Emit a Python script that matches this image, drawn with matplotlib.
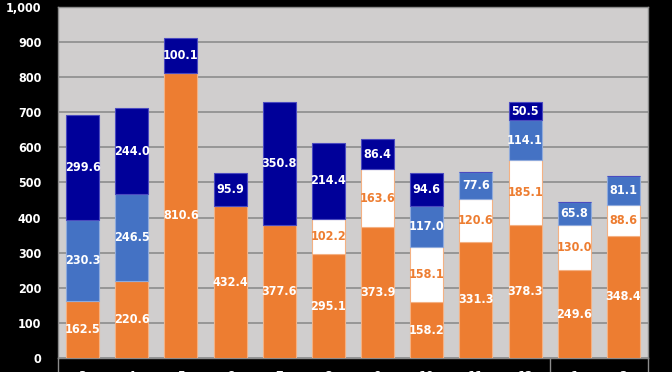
import matplotlib.pyplot as plt
import numpy as np

months = ['3', '4', '5', '6', '7', '8', '9', '10', '11', '12', '1', '2']
orange = [162.5, 220.6, 810.6, 432.4, 377.6, 295.1, 373.9, 158.2, 331.3, 378.3, 249.6, 348.4]
white = [0, 0, 0, 0, 0, 102.2, 163.6, 158.1, 120.6, 185.1, 130.0, 88.6]
blue = [230.3, 246.5, 0, 0, 0, 0, 0, 117.0, 77.6, 114.1, 65.8, 81.1]
navy = [299.6, 244.0, 100.1, 95.9, 350.8, 214.4, 86.4, 94.6, 0, 50.5, 0, 0]

plt.rcParams['font.family'] = ['DejaVu Sans']
plt.rcParams['font.stretch'] = 'condensed'
plt.rcParams['font.weight'] = 'bold'

fig = plt.figure(figsize=(6.72, 3.72), dpi=100, facecolor='black')
ax = fig.add_axes([58 / 672, 14 / 372, 590 / 672, 351 / 372])
ax.set_facecolor('#D0CECE')

x = np.arange(len(months))
w = 0.67
series = [
    (orange, '#ED7D31', 'white', '#F4B183'),
    (white, 'white', '#ED7D31', '#F4B183'),
    (blue, '#4472C4', 'white', '#8FAADC'),
    (navy, '#000099', 'white', '#4A4AC0'),
]
bottom = np.zeros(len(months))
for vals, fc, tc, ec in series:
    vals = np.array(vals)
    ax.bar(x, vals, w, bottom=bottom, color=fc, edgecolor=ec, linewidth=0.8, zorder=3)
    for xi, b, v in zip(x, bottom, vals):
        if v > 0:
            ax.text(xi, b + v / 2, f'{v:.1f}', ha='center', va='center',
                    color=tc, fontsize=9, fontweight='bold', zorder=4)
    bottom += vals

ax.set_xlim(-0.5, len(months) - 0.5)
ax.set_ylim(0, 1000)
ax.set_yticks(range(0, 1001, 100))
ax.set_yticklabels([f'{v:,}' for v in range(0, 1001, 100)])
ax.yaxis.grid(True, color='#8C8C8C', linewidth=1.2, zorder=0)
ax.tick_params(axis='y', length=0, pad=12, colors='white', labelsize=9)
ax.set_xticks(x)
ax.set_xticklabels(months)
ax.tick_params(axis='x', length=0, pad=9, colors='white', labelsize=9)
for s in ax.spines.values():
    s.set_color('#8C8C8C')
    s.set_linewidth(1)

# group separators below the axis
for xs in [-0.5, 9.5, 11.5]:
    ax.plot([xs, xs], [0, -60], color='#8C8C8C', lw=1, clip_on=False, zorder=5)

fig.savefig('out.png', facecolor='black')
